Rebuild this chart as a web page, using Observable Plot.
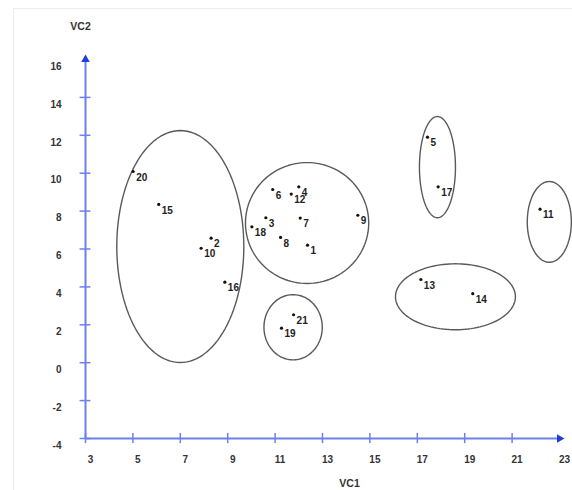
<!DOCTYPE html>
<html>
<head>
<meta charset="utf-8">
<script src="https://cdn.jsdelivr.net/npm/d3@7"></script>
<script src="https://cdn.jsdelivr.net/npm/@observablehq/plot@0.6"></script>
<style>
  html, body { margin: 0; padding: 0; background: #fff; }
  #wrap { position: relative; width: 572px; height: 490px; overflow: hidden; }
  #border { position: absolute; left: 13px; top: 8px; right: -2px; bottom: -2px;
            border-left: 1px solid #ececec; border-top: 1px solid #ececec; pointer-events: none; }
</style>
</head>
<body>
<div id="wrap"><div id="border"></div></div>
<script>
// Observations (VC1, VC2) with their labels
const ids = ["1","2","3","4","5","6","7","8","9","10","11","12","13","14","15","16","17","18","19","20","21"];
const vc1 = [12.37, 8.3, 10.61, 12.0, 17.43, 10.9, 12.06, 11.23, 14.49, 7.88, 22.18, 11.68, 17.15, 19.34, 6.09, 8.88, 17.88, 10.02, 11.27, 5.01, 11.78];
const vc2 = [6.2, 6.57, 7.65, 9.28, 11.9, 9.14, 7.63, 6.61, 7.78, 6.04, 8.1, 8.9, 4.39, 3.64, 8.35, 4.25, 9.28, 7.17, 1.82, 10.09, 2.53];

// Cluster ellipses: centre and semi-axes in data units
const ellCx = [7.0, 12.35, 11.76, 17.85, 22.57, 18.61];
const ellCy = [6.13, 7.37, 1.87, 10.32, 7.43, 3.48];
const ellRx = [2.68, 2.6, 1.23, 0.76, 0.93, 2.53];
const ellRy = [6.12, 3.19, 1.72, 2.67, 2.13, 1.74];

// Axis ticks
const xTicks = [3, 5, 7, 9, 11, 13, 15, 17, 19, 21];
const xTickLabels = [3, 5, 7, 9, 11, 13, 15, 17, 19, 21, 23];
const yTicks = [-4, -2, 0, 2, 4, 6, 8, 10, 12, 14];
const yTickLabels = [-4, -2, 0, 2, 4, 6, 8, 10, 12, 14, 16];

const points = ids.map((id, i) => ({id, x: vc1[i], y: vc2[i]}));

const angles = d3.range(0, 360, 3).map(a => a * Math.PI / 180);
const outline = [];
ellCx.forEach((cx, k) => {
  angles.forEach(t => outline.push({k, x: cx + ellRx[k] * Math.cos(t), y: ellCy[k] + ellRy[k] * Math.sin(t)}));
});

const axisBlue = "#6f80ec";
const arrowBlue = "#1f3fd8";
const font = "'Liberation Sans', Arial, sans-serif";

const chart = Plot.plot({
  width: 572,
  height: 490,
  marginLeft: 85,
  marginRight: 13,
  marginTop: 59,
  marginBottom: 52,
  style: {fontFamily: font, background: "transparent", overflow: "visible"},
  x: {domain: [3, 23], axis: null},
  y: {domain: [-4, 16], axis: null},
  marks: [
    Plot.line(outline, {x: "x", y: "y", z: "k", stroke: "#5a5a5a", strokeWidth: 1.4, curve: "linear-closed"}),
    Plot.ruleY([-4], {x1: 3, x2: 23, stroke: axisBlue, strokeWidth: 2}),
    Plot.ruleX([3], {y1: -4, y2: 16, stroke: axisBlue, strokeWidth: 2}),
    Plot.ruleX(xTicks, {x: d => d, y1: -4.27, y2: -3.73, stroke: axisBlue, strokeWidth: 1.5}),
    Plot.ruleY(yTicks, {y: d => d, x1: 2.77, x2: 3.23, stroke: axisBlue, strokeWidth: 1.5}),
    Plot.dot([0], {x: 23, y: -4, symbol: "triangle", r: 3.2, fill: arrowBlue, stroke: null, rotate: 90}),
    Plot.dot([0], {x: 3, y: 16, symbol: "triangle", r: 3.2, fill: arrowBlue, stroke: null}),
    Plot.text(xTickLabels, {x: d => d, y: -4, dx: 5, dy: 21, text: d => String(d), fontSize: 10, fontWeight: "bold", fill: "#333"}),
    Plot.text(yTickLabels, {x: 3, y: d => d, dx: -24, dy: 7, text: d => String(d), textAnchor: "end", fontSize: 10, fontWeight: "bold", fill: "#333"}),
    Plot.text(["VC2"], {x: 2.79, y: 17.74, text: d => d, fontSize: 10.5, fontWeight: "bold", fill: "#333"}),
    Plot.text(["VC1"], {x: 14.14, y: -6.4, text: d => d, fontSize: 10.5, fontWeight: "bold", fill: "#333"}),
    Plot.dot(points, {x: "x", y: "y", r: 1.6, fill: "#111", stroke: null}),
    Plot.text(points, {x: "x", y: "y", text: "id", dx: 3, dy: 6, textAnchor: "start", fontSize: 10, fontWeight: "bold", fill: "#222"})
  ]
});
document.getElementById("wrap").appendChild(chart);
</script>
</body>
</html>
